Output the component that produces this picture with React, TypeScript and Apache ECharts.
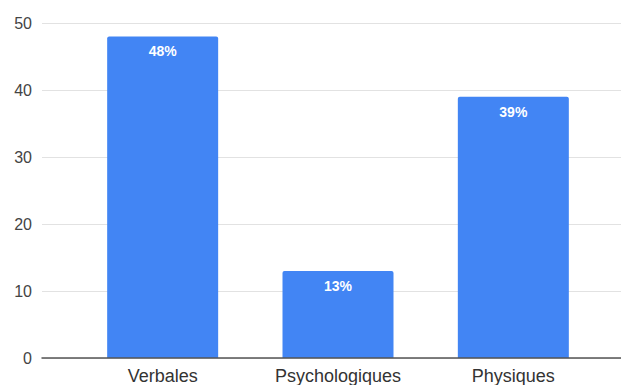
import React, { useEffect, useRef } from "react";
import * as echarts from "echarts";

const categories = ["Verbales", "Psychologiques", "Physiques"];
const values = [48, 13, 39];
const yTicks = { min: 0, max: 50, interval: 10 };

export default function App() {
  const ref = useRef<HTMLDivElement>(null);
  useEffect(() => {
    if (!ref.current) return;
    const chart = echarts.init(ref.current, null, { renderer: "svg" });
    const font = "'Liberation Sans', Arial, sans-serif";
    chart.setOption({
      animation: false,
      backgroundColor: "#ffffff",
      textStyle: { fontFamily: font },
      grid: [
        { left: 42, right: 0, top: 23, height: 335 },
        { left: 75, right: 20, top: 23, height: 335 },
      ],
      xAxis: [
        {
          gridIndex: 0,
          type: "value",
          min: 0,
          max: 1,
          axisLabel: { show: false },
          axisTick: { show: false },
          splitLine: { show: false },
          axisLine: { show: true, lineStyle: { color: "#555555", width: 1.5 } },
          z: 5,
        },
        {
          gridIndex: 1,
          type: "category",
          data: categories,
          axisLine: { show: false },
          axisTick: { show: false },
          axisLabel: { fontSize: 18, color: "#333333", margin: 9, fontFamily: font },
        },
      ],
      yAxis: [
        {
          gridIndex: 0,
          type: "value",
          min: yTicks.min,
          max: yTicks.max,
          interval: yTicks.interval,
          axisLine: { show: false },
          axisTick: { show: false },
          axisLabel: { fontSize: 16, color: "#444444", margin: 10, fontFamily: font },
          splitLine: { lineStyle: { color: "#e2e2e2", width: 1 } },
        },
        {
          gridIndex: 1,
          type: "value",
          min: yTicks.min,
          max: yTicks.max,
          interval: yTicks.interval,
          show: false,
        },
      ],
      series: [
        {
          type: "bar",
          xAxisIndex: 1,
          yAxisIndex: 1,
          data: values,
          barWidth: 111,
          itemStyle: { color: "#4285F4", borderRadius: [2, 2, 0, 0] },
          label: {
            show: true,
            position: "insideTop",
            distance: 8,
            formatter: "{c}%",
            color: "#ffffff",
            fontWeight: "bold",
            fontSize: 14,
            fontFamily: font,
          },
        },
      ],
    });
    return () => chart.dispose();
  }, []);
  return (
    <div
      ref={ref}
      style={{ position: "absolute", left: 0, top: 0, width: 621, height: 385 }}
    />
  );
}
